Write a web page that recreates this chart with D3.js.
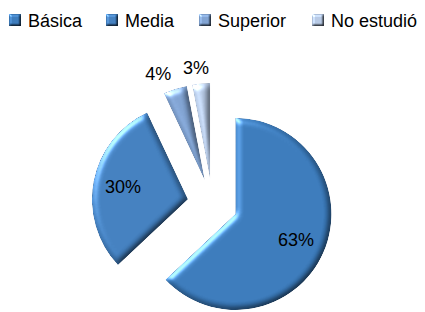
<!DOCTYPE html>
<html><head><meta charset="utf-8">
<script src="https://cdn.jsdelivr.net/npm/d3@7"></script>
<style>body{margin:0;background:#fff}svg{display:block}</style>
</head><body>
<script>
const categories = ["Básica", "Media", "Superior", "No estudió"];
const values = [63, 30, 4, 3];
const valueLabels = ["63%", "30%", "4%", "3%"];
const colors = ["#3a7bbd", "#4280c1", "#80a3d3", "#b7cae6"];

const W = 425, H = 312;
const cx = 212.5, cy = 204, R = 96, explode = 25;
const font = "'Liberation Sans', Arial, sans-serif";

const svg = d3.select("body").append("svg").attr("width", W).attr("height", H);
const defs = svg.append("defs");

function bevel(id, std, scale) {
  const f = defs.append("filter").attr("id", id)
    .attr("color-interpolation-filters", "sRGB")
    .attr("x", "-20%").attr("y", "-20%").attr("width", "140%").attr("height", "140%");
  f.append("feGaussianBlur").attr("in", "SourceAlpha").attr("stdDeviation", std).attr("result", "blur");
  const s = f.append("feSpecularLighting").attr("in", "blur").attr("surfaceScale", scale)
    .attr("specularConstant", 0.45).attr("specularExponent", 20)
    .attr("lighting-color", "#ffffff").attr("result", "spec");
  s.append("feDistantLight").attr("azimuth", 225).attr("elevation", 30);
  f.append("feComposite").attr("in", "spec").attr("in2", "SourceAlpha").attr("operator", "in").attr("result", "specIn");
  const d = f.append("feDiffuseLighting").attr("in", "blur").attr("surfaceScale", scale)
    .attr("diffuseConstant", 1).attr("lighting-color", "#ffffff").attr("result", "diff");
  d.append("feDistantLight").attr("azimuth", 225).attr("elevation", 60);
  f.append("feComposite").attr("in", "SourceGraphic").attr("in2", "diff").attr("operator", "arithmetic")
    .attr("k1", 1.12).attr("k2", 0).attr("k3", 0).attr("k4", 0).attr("result", "lit");
  f.append("feComposite").attr("in", "lit").attr("in2", "SourceAlpha").attr("operator", "in").attr("result", "litIn");
  f.append("feComposite").attr("in", "litIn").attr("in2", "specIn").attr("operator", "arithmetic")
    .attr("k1", 0).attr("k2", 1).attr("k3", 1).attr("k4", 0);
}
bevel("bevel", 3, 3);
bevel("bevelSmall", 1.2, 2);

const pie = d3.pie().sort(null).value(d => d)(values);
const arc = d3.arc().innerRadius(0).outerRadius(R);

const g = svg.append("g").attr("transform", `translate(${cx},${cy})`);
const mid = d => (d.startAngle + d.endAngle) / 2;

const slices = g.selectAll("g.slice").data(pie).join("g")
  .attr("class", "slice")
  .attr("transform", d => {
    const a = mid(d);
    return `translate(${explode * Math.sin(a)},${-explode * Math.cos(a)})`;
  });

slices.append("path")
  .attr("d", arc)
  .attr("fill", (d, i) => colors[i])
  .attr("filter", "url(#bevel)");

// labels
slices.append("text")
  .attr("font-family", font).attr("font-size", 18).attr("fill", "#000")
  .attr("text-anchor", "middle").attr("dy", "0.35em")
  .text((d, i) => valueLabels[i])
  .each(function (d) {
    const a = mid(d);
    const sn = Math.sin(a), cs = -Math.cos(a);
    const frac = (d.endAngle - d.startAngle) / (2 * Math.PI);
    if (frac > 0.1) {
      d3.select(this).attr("x", 66 * sn).attr("y", 66 * cs);
    } else {
      const w = this.getComputedTextLength();
      const rl = R + 15.5;
      d3.select(this).attr("x", rl * sn + sn * w * 1.5).attr("y", rl * cs);
    }
  });

// legend
const legendX = [9, 106, 199, 312];
const leg = svg.append("g").selectAll("g").data(categories).join("g")
  .attr("transform", (d, i) => `translate(${legendX[i]},14)`);
leg.append("rect").attr("width", 12).attr("height", 12)
  .attr("fill", (d, i) => colors[i]).attr("filter", "url(#bevelSmall)");
leg.append("text").attr("x", 19).attr("y", 12.5)
  .attr("font-family", font).attr("font-size", 18).attr("fill", "#000")
  .text(d => d);
</script>
</body></html>
